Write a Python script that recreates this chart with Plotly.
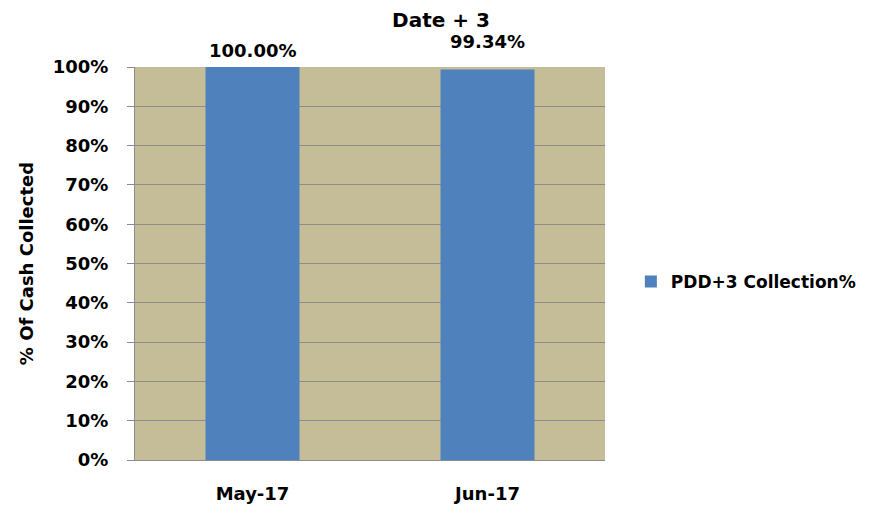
import plotly.graph_objects as go

categories = ["May-17", "Jun-17"]
values = [1.0, 0.9934]
value_labels = ["100.00%", "99.34%"]
label_shifts = [4, 16]
series_name = "PDD+3 Collection%"
title_text = "Date + 3"
y_title = "% Of Cash Collected"

FONT = "'DejaVu Sans', sans-serif"
GRID = "#8c8c8c"
SZ = 18

def f(size):
    return dict(family=FONT, size=size, color="black", weight="bold")

fig = go.Figure()
fig.add_trace(go.Bar(
    x=categories, y=values, name=series_name,
    marker=dict(color="#4f81bd", line=dict(width=0)),
    width=0.4,
))
for c, v, t, s in zip(categories, values, value_labels, label_shifts):
    fig.add_annotation(x=c, y=v, text=t, showarrow=False,
                       yanchor="bottom", yshift=s, font=f(SZ))

fig.update_layout(
    width=888, height=500,
    margin=dict(l=127, r=291, t=59, b=48, autoexpand=False),
    paper_bgcolor="white", plot_bgcolor="#c4bd97",
    title=dict(text=title_text, x=0.4876, xanchor="center", y=0.977, yanchor="middle",
               font=f(20)),
    font=dict(family=FONT, color="black"),
    showlegend=True,
    legend=dict(x=1.055, y=0.453, xanchor="left", yanchor="middle",
                font=f(17), itemwidth=30, bgcolor="rgba(0,0,0,0)"),
)
fig.update_xaxes(
    showgrid=False, showline=True, linecolor=GRID, linewidth=1,
    tickfont=f(SZ), ticks="", ticklabelstandoff=17, automargin=False,
)
fig.update_yaxes(
    range=[0, 1], dtick=0.1, tickformat=".0%",
    showgrid=True, gridcolor=GRID, gridwidth=1,
    showline=True, linecolor=GRID, linewidth=1,
    ticks="outside", ticklen=7, tickcolor=GRID, automargin=False,
    tickfont=f(SZ), ticklabelstandoff=15,
    title=dict(text=y_title, font=f(18), standoff=14),
    zeroline=False,
)
fig.write_html("out.html")
